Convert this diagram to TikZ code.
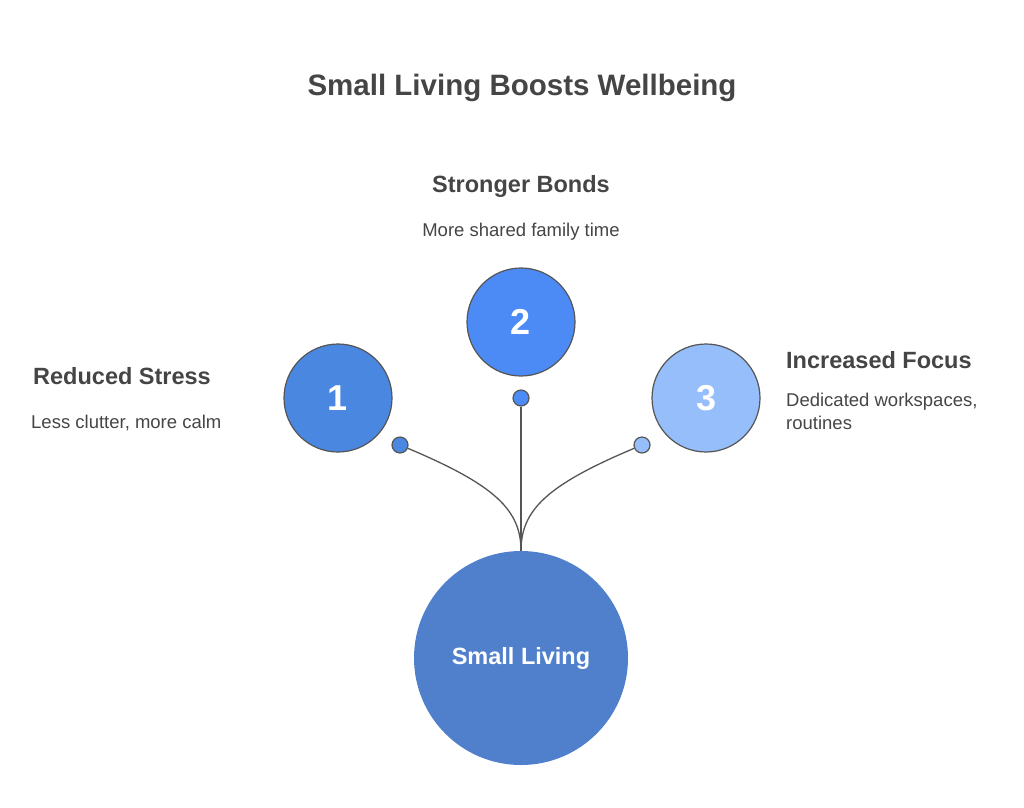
\documentclass[tikz,border=0pt]{standalone}
\usepackage{fontspec}
\setmainfont{Liberation Sans}
\usepackage{tikz}
\usetikzlibrary{positioning}
\definecolor{TextGray}{HTML}{454545}
\definecolor{LineGray}{HTML}{555555}
\definecolor{BlueOne}{HTML}{4A87E0}
\definecolor{BlueTwo}{HTML}{4C8BF5}
\definecolor{BlueThree}{HTML}{96BEFA}
\definecolor{BlueBase}{HTML}{5080CB}
\tikzstyle{NumNode}=[circle, draw=LineGray, line width=1.2pt, minimum size=108pt, inner sep=0pt, text=white, font=\fontsize{36}{38}\selectfont\bfseries]
\tikzstyle{DotNode}=[circle, draw=LineGray, line width=1.2pt, minimum size=16pt, inner sep=0pt]
\tikzstyle{HeadText}=[inner sep=0pt, text=TextGray, font=\fontsize{23.5}{27}\selectfont\bfseries]
\tikzstyle{DescText}=[inner sep=0pt, text=TextGray, align=left, font=\fontsize{18.5}{23}\selectfont]
\tikzstyle{LinkLine}=[draw=LineGray, line width=1.3pt]

\begin{document}
\begin{tikzpicture}[x=1pt, y=-1pt]

    \useasboundingbox (0,0) rectangle (1024,807);

    \node (Title) [inner sep=0pt, text=TextGray, font=\fontsize{29.5}{32}\selectfont\bfseries, anchor=base] at (522,95) {Small Living Boosts Wellbeing};

    % base circle
    \node (SmallLiving) [circle, fill=BlueBase, minimum size=214pt, inner sep=0pt, text=white, font=\fontsize{23.5}{26}\selectfont\bfseries] at (521,658) {Small Living};

    % numbered circles
    \node (CircOne) [NumNode, fill=BlueOne] at (338,398) {1};
    \node (CircTwo) [NumNode, fill=BlueTwo] at (521,322) {2};
    \node (CircThree) [NumNode, fill=BlueThree] at (706,398) {3};

    % connectors
    \node (DotOne) [DotNode, fill=BlueOne] at (400,445) {};
    \node (DotTwo) [DotNode, fill=BlueTwo] at (521,398) {};
    \node (DotThree) [DotNode, fill=BlueThree] at (642,445) {};
    \draw [LinkLine] (DotOne) .. controls (495,485) and (521,510) .. (SmallLiving.north);
    \draw [LinkLine] (DotTwo) -- (SmallLiving.north);
    \draw [LinkLine] (DotThree) .. controls (547,485) and (521,510) .. (SmallLiving.north);

    % labels
    \node (HeadOne) [HeadText, anchor=base west] at (33,384) {Reduced Stress};
    \node (DescOne) [DescText, anchor=base west] at (31,428) {Less clutter, more calm};
    \node (HeadTwo) [HeadText, anchor=base] at (521,192) {Stronger Bonds};
    \node (DescTwo) [DescText, anchor=base] at (521,236) {More shared family time};
    \node (HeadThree) [HeadText, anchor=base west] at (786,368) {Increased Focus};
    \node (DescThree) [DescText, anchor=north west] at (786,393) {Dedicated workspaces,\\routines};

\end{tikzpicture}
\end{document}
